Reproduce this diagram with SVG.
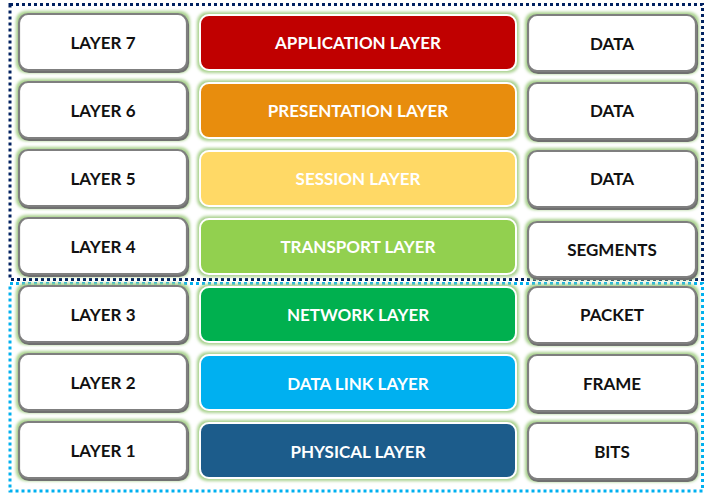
<svg xmlns="http://www.w3.org/2000/svg" width="705" height="494" viewBox="0 0 705 494">
<defs>
<filter id="glow" x="-10%" y="-25%" width="120%" height="150%">
<feMorphology in="SourceAlpha" operator="dilate" radius="2" result="d"/>
<feGaussianBlur in="d" stdDeviation="1.6" result="b"/>
<feFlood flood-color="#a9d18e" result="c"/>
<feComposite in="c" in2="b" operator="in" result="g"/>
<feMerge><feMergeNode in="g"/><feMergeNode in="SourceGraphic"/></feMerge>
</filter>
<filter id="glowsh" x="-10%" y="-25%" width="120%" height="150%">
<feMorphology in="SourceAlpha" operator="dilate" radius="2" result="d"/>
<feGaussianBlur in="d" stdDeviation="1.6" result="b"/>
<feFlood flood-color="#a9d18e" result="c"/>
<feComposite in="c" in2="b" operator="in" result="g"/>
<feOffset in="SourceAlpha" dx="1.2" dy="1.5" result="o"/>
<feFlood flood-color="#707070" result="sc"/>
<feComposite in="sc" in2="o" operator="in" result="s"/>
<feMerge><feMergeNode in="g"/><feMergeNode in="s"/><feMergeNode in="SourceGraphic"/></feMerge>
</filter>
</defs>
<style>
.w{fill:#ffffff;stroke:#7f7f7f;stroke-width:2.2;filter:url(#glowsh)}
.c{stroke:#ffffff;stroke-width:2;filter:url(#glow)}
.t{font-family:Lato,"Open Sans","Liberation Sans",sans-serif;font-weight:bold;font-size:17px;text-anchor:middle}
.k{fill:#111111}
.h{fill:#ffffff}
.top{fill:none;stroke:#002060;stroke-width:3;stroke-dasharray:3 3}
.bot{fill:none;stroke:#00b0f0;stroke-width:3;stroke-dasharray:3 3}
</style>
<rect width="705" height="494" fill="#ffffff"/>
<g id="groups">
<rect class="bot" x="10" y="283.5" width="692.5" height="207.5"/>
<rect class="top" x="10" y="4.5" width="692.5" height="275"/>
</g>
<g id="layer7"><rect class="w" x="19" y="14" width="168" height="56" rx="9"/><text class="t k" x="103" y="49">LAYER 7</text></g>
<g id="layer6"><rect class="w" x="19" y="82" width="168" height="56" rx="9"/><text class="t k" x="103" y="117">LAYER 6</text></g>
<g id="layer5"><rect class="w" x="19" y="150" width="168" height="56" rx="9"/><text class="t k" x="103" y="185">LAYER 5</text></g>
<g id="layer4"><rect class="w" x="19" y="218" width="168" height="56" rx="9"/><text class="t k" x="103" y="253">LAYER 4</text></g>
<g id="layer3"><rect class="w" x="19" y="286" width="168" height="56" rx="9"/><text class="t k" x="103" y="321">LAYER 3</text></g>
<g id="layer2"><rect class="w" x="19" y="354" width="168" height="56" rx="9"/><text class="t k" x="103" y="389">LAYER 2</text></g>
<g id="layer1"><rect class="w" x="19" y="422" width="168" height="56" rx="9"/><text class="t k" x="103" y="457">LAYER 1</text></g>

<g id="application"><rect class="c" fill="#c00000" x="200" y="15" width="316" height="55" rx="9"/><text class="t h" x="358" y="49">APPLICATION LAYER</text></g>
<g id="presentation"><rect class="c" fill="#e88d10" x="200" y="83" width="316" height="55" rx="9"/><text class="t h" x="358" y="117">PRESENTATION LAYER</text></g>
<g id="session"><rect class="c" fill="#ffd966" x="200" y="151" width="316" height="55" rx="9"/><text class="t h" x="358" y="185">SESSION LAYER</text></g>
<g id="transport"><rect class="c" fill="#92d050" x="200" y="219" width="316" height="55" rx="9"/><text class="t h" x="358" y="253">TRANSPORT LAYER</text></g>
<g id="network"><rect class="c" fill="#00b050" x="200" y="287" width="316" height="55" rx="9"/><text class="t h" x="358" y="321">NETWORK LAYER</text></g>
<g id="datalink"><rect class="c" fill="#00b0f0" x="200" y="355" width="316" height="55" rx="9"/><text class="t h" x="358" y="390">DATA LINK LAYER</text></g>
<g id="physical"><rect class="c" fill="#1f5c8b" x="200" y="423" width="316" height="55" rx="9"/><text class="t h" x="358" y="458">PHYSICAL LAYER</text></g>

<g id="data7"><rect class="w" x="528" y="15" width="168" height="56" rx="9"/><text class="t k" x="612" y="50">DATA</text></g>
<g id="data6"><rect class="w" x="528" y="83" width="168" height="56" rx="9"/><text class="t k" x="612" y="117">DATA</text></g>
<g id="data5"><rect class="w" x="528" y="151" width="168" height="56" rx="9"/><text class="t k" x="612" y="185">DATA</text></g>
<g id="segments"><rect class="w" x="528" y="222" width="168" height="55" rx="9"/><text class="t k" x="612" y="256">SEGMENTS</text></g>
<g id="packet"><rect class="w" x="528" y="287" width="168" height="56" rx="9"/><text class="t k" x="612" y="321">PACKET</text></g>
<g id="frame"><rect class="w" x="528" y="355" width="168" height="56" rx="9"/><text class="t k" x="612" y="390">FRAME</text></g>
<g id="bits"><rect class="w" x="528" y="423" width="168" height="56" rx="9"/><text class="t k" x="612" y="458">BITS</text></g>
</svg>
